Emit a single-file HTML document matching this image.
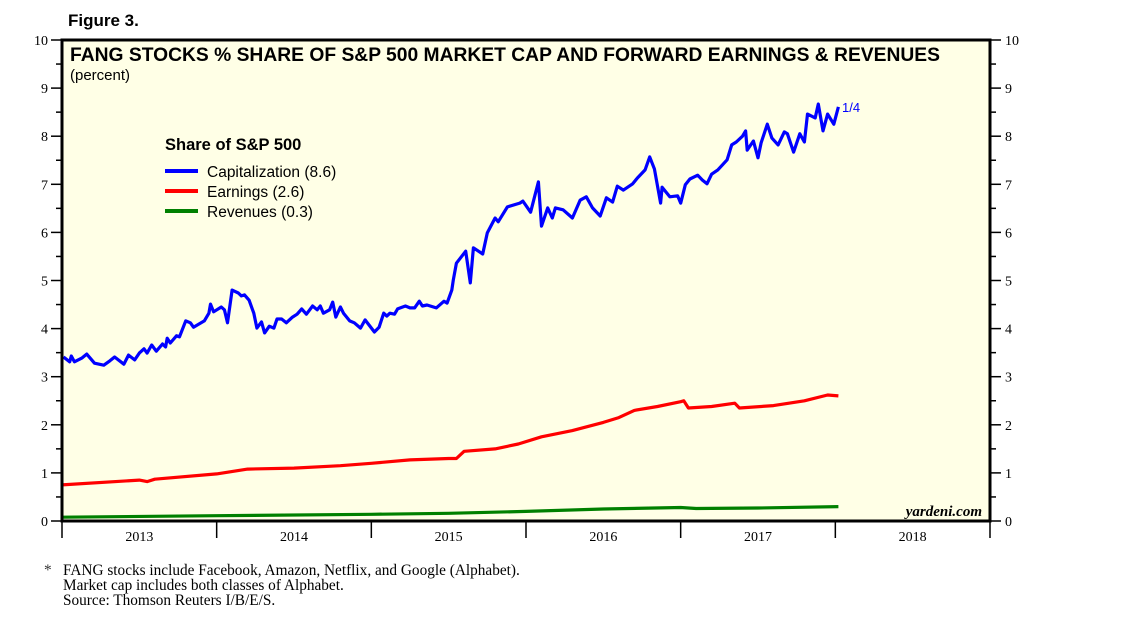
<!DOCTYPE html>
<html><head><meta charset="utf-8"><style>
body{margin:0;background:#fff;width:1138px;height:622px;overflow:hidden}
svg text{font-family:"Liberation Sans",sans-serif}
.serif{font-family:"Liberation Serif",serif}
</style></head><body>
<svg id="chart" width="1138" height="622" viewBox="0 0 1138 622">
<text x="68" y="26" font-size="17" font-weight="bold">Figure 3.</text>
<rect x="62" y="40" width="928" height="481" fill="#ffffe6"/>
<g id="grid"></g>
<g id="series"></g>
<rect x="62" y="40" width="928" height="481" fill="none" stroke="#000" stroke-width="3"/>
<text x="70" y="61" font-size="19" font-weight="bold" textLength="870" lengthAdjust="spacingAndGlyphs">FANG STOCKS % SHARE OF S&amp;P 500 MARKET CAP AND FORWARD EARNINGS &amp; REVENUES</text>
<text x="70" y="80" font-size="15">(percent)</text>
<text x="165" y="150" font-size="16.5" font-weight="bold">Share of S&amp;P 500</text>
<g><line x1="165" y1="171" x2="198" y2="171" stroke="#0000ff" stroke-width="4"/><text x="207" y="177" font-size="15.5">Capitalization (8.6)</text></g>
<g><line x1="165" y1="191" x2="198" y2="191" stroke="#ff0000" stroke-width="4"/><text x="207" y="197" font-size="15.5">Earnings (2.6)</text></g>
<g><line x1="165" y1="211" x2="198" y2="211" stroke="#008000" stroke-width="4"/><text x="207" y="217" font-size="15.5">Revenues (0.3)</text></g>
<text x="842" y="112" font-size="13" fill="#0000ff">1/4</text>
<text x="982" y="516" font-size="15" font-style="italic" font-weight="bold" text-anchor="end" class="serif">yardeni.com</text>
<g class="serif" font-size="15.3">
<text x="44" y="575" class="serif" fill="#333">*</text>
<text x="63" y="575" class="serif">FANG stocks include Facebook, Amazon, Netflix, and Google (Alphabet).</text>
<text x="63" y="590" class="serif">Market cap includes both classes of Alphabet.</text>
<text x="63" y="605" class="serif">Source: Thomson Reuters I/B/E/S.</text>
</g>
</svg>
<script>
const yTicks=[0,1,2,3,4,5,6,7,8,9,10];
const years=["2013","2014","2015","2016","2017","2018"];
const blueT=[.01,.05,.06,.08,.13,.16,.21,.27,.31,.34,.40,.43,.47,.50,.53,.55,.58,.61,.65,.67,.68,.70,.74,.76,.80,.83,.85,.92,.95,.96,.98,1.03,1.05,1.07,1.10,1.14,1.16,1.18,1.21,1.24,1.26,1.29,1.31,1.34,1.37,1.39,1.42,1.45,1.49,1.52,1.55,1.58,1.62,1.65,1.67,1.69,1.73,1.75,1.77,1.80,1.82,1.86,1.89,1.93,1.96,2.02,2.05,2.08,2.10,2.12,2.15,2.17,2.22,2.25,2.28,2.31,2.33,2.36,2.42,2.47,2.49,2.52,2.53,2.55,2.61,2.64,2.66,2.72,2.75,2.80,2.82,2.88,2.96,2.98,3.03,3.08,3.10,3.14,3.17,3.19,3.24,3.30,3.35,3.39,3.43,3.48,3.52,3.56,3.59,3.63,3.69,3.72,3.77,3.80,3.83,3.87,3.88,3.93,3.98,4.00,4.03,4.06,4.11,4.14,4.17,4.20,4.24,4.30,4.33,4.36,4.40,4.42,4.43,4.47,4.50,4.52,4.56,4.59,4.63,4.67,4.69,4.73,4.77,4.80,4.82,4.87,4.89,4.92,4.95,4.99,5.02];
const blueV=[3.41,3.31,3.43,3.31,3.39,3.47,3.28,3.24,3.33,3.41,3.26,3.45,3.35,3.49,3.58,3.49,3.66,3.53,3.68,3.62,3.80,3.70,3.85,3.83,4.16,4.12,4.03,4.16,4.32,4.51,4.35,4.45,4.39,4.12,4.80,4.74,4.68,4.70,4.59,4.32,4.01,4.14,3.91,4.05,4.01,4.20,4.20,4.12,4.24,4.30,4.41,4.30,4.47,4.39,4.47,4.32,4.39,4.55,4.24,4.45,4.32,4.16,4.12,4.01,4.18,3.93,4.03,4.32,4.26,4.32,4.30,4.41,4.47,4.43,4.43,4.57,4.47,4.49,4.43,4.57,4.53,4.80,5.01,5.36,5.61,4.95,5.68,5.55,5.99,6.30,6.22,6.53,6.61,6.65,6.42,7.05,6.13,6.51,6.30,6.51,6.47,6.30,6.67,6.74,6.51,6.34,6.72,6.63,6.96,6.88,7.01,7.13,7.30,7.57,7.32,6.61,6.94,6.74,6.76,6.61,6.99,7.11,7.19,7.09,7.01,7.21,7.30,7.51,7.82,7.88,8.00,8.11,7.71,7.90,7.55,7.86,8.25,7.96,7.82,8.09,8.05,7.67,8.05,7.88,8.46,8.38,8.67,8.11,8.46,8.25,8.61];
const redT=[0,.5,.55,.6,1.0,1.2,1.5,1.8,2.0,2.25,2.5,2.55,2.6,2.8,2.95,3.1,3.3,3.5,3.6,3.7,3.85,4.0,4.02,4.05,4.2,4.35,4.38,4.6,4.8,4.95,5.02];
const redV=[0.75,0.85,0.82,0.87,0.98,1.08,1.1,1.15,1.2,1.27,1.3,1.3,1.45,1.5,1.6,1.75,1.88,2.05,2.15,2.3,2.38,2.48,2.5,2.35,2.38,2.45,2.35,2.4,2.5,2.62,2.6];
const greenT=[0,1,2,2.5,3,3.5,4.0,4.1,4.5,5.02];
const greenV=[0.08,0.11,0.14,0.16,0.2,0.25,0.28,0.26,0.27,0.3];
const NS="http://www.w3.org/2000/svg";
const X0=62,X1=990,Y0=521,Y1=40;
const xs=t=>X0+t*(X1-X0)/6;
const ys=v=>Y0-v*(Y0-Y1)/10;
function mk(tag,attrs,parent){const e=document.createElementNS(NS,tag);for(const k in attrs)e.setAttribute(k,attrs[k]);parent.appendChild(e);return e;}
const g=document.getElementById('grid');
yTicks.forEach(v=>{
  const y=ys(v);
  const a=mk('line',{x1:51,x2:X0,y1:y,y2:y,stroke:'#000','stroke-width':1.5},g);
  
  
  const b=mk('line',{x1:X1,x2:1001,y1:y,y2:y,stroke:'#000','stroke-width':1.5},g);
  
  
  if(v<10){const ym=ys(v+0.5);
    mk('line',{x1:56,x2:X0,y1:ym,y2:ym,stroke:'#000','stroke-width':1.5},g);
    mk('line',{x1:X1,x2:996,y1:ym,y2:ym,stroke:'#000','stroke-width':1.5},g);}
  const l=mk('text',{x:48,y:y+5,'font-size':14,'text-anchor':'end','class':'serif'},g);
  l.textContent=v;
  
  
  const r=mk('text',{x:1005,y:y+5,'font-size':14,'class':'serif'},g);
  r.textContent=v;
  
  
});
for(let i=0;i<=years.length;i++){
  const x=xs(i);
  const t=mk('line',{x1:x,x2:x,y1:Y0,y2:538,stroke:'#000','stroke-width':1.5},g);
  
  
}
years.forEach((yr,i)=>{
  const t=mk('text',{x:xs(i+0.5),y:541,'font-size':14,'text-anchor':'middle','class':'serif'},g);
  t.textContent=yr;
  
  
});
const s=document.getElementById('series');
function line(T,V,color,name){
  const d=T.map((t,i)=>(i?'L':'M')+xs(t).toFixed(1)+','+ys(V[i]).toFixed(1)).join('');
  const p=mk('path',{d:d,fill:'none',stroke:color,'stroke-width':3.2,'stroke-linejoin':'round'},s);
  
  
}
line(greenT,greenV,'#008000','revenues-line');
line(redT,redV,'#ff0000','earnings-line');
line(blueT,blueV,'#0000ff','capitalization-line');
</script>
</body></html>
